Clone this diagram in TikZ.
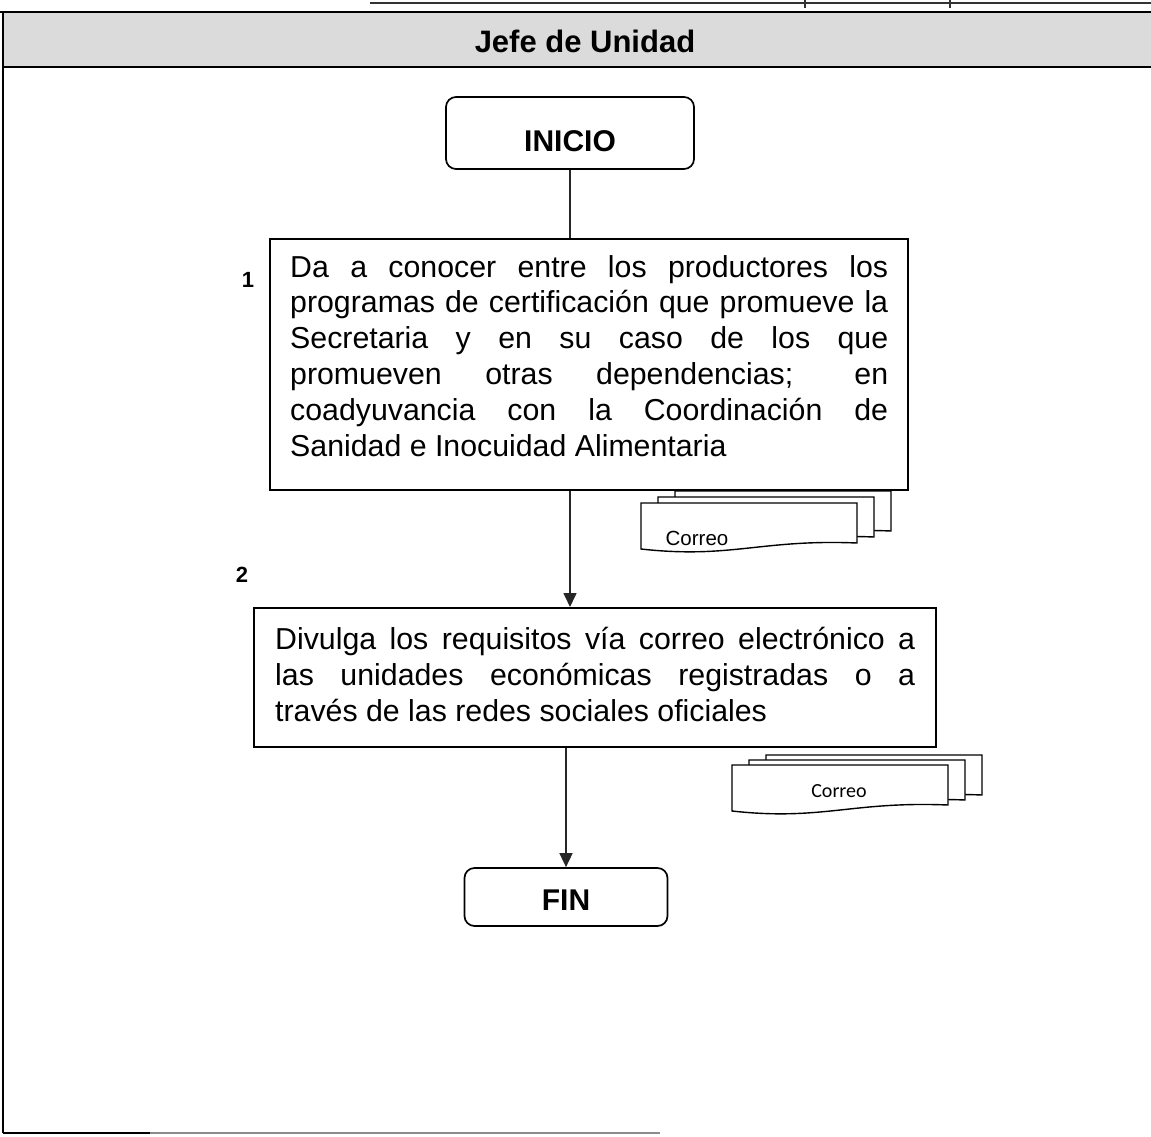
\documentclass[tikz,border=0pt]{standalone}
\usepackage{fontspec}
\setmainfont{Liberation Sans}
\newfontfamily\calibfont{Carlito}
\usetikzlibrary{arrows.meta}
\newcommand\docoutline{(0,0) -- (216,0) -- (216,40) .. controls (120,36) and (90,56) .. (0,46) -- cycle}
\newcommand\jline[2]{\makebox[#1][s]{#2}}
\newdimen\jdim
\newcommand\setjspace{\jdim=\fontdimen2\font\relax\spaceskip=\jdim plus 1fil\relax}
\begin{document}
\begin{tikzpicture}[x=1pt,y=-1pt,
  every node/.style={inner sep=0pt},
  stepbox/.style={draw=black, line width=1.7pt, fill=white, anchor=north west},
  term/.style={draw=black, line width=1.7pt, rounded corners=10pt, fill=white, font=\fontsize{30}{36}\selectfont\bfseries},
  conn/.style={line width=1.6pt, draw=black!85},
  arr/.style={conn, -{Triangle[length=14pt,width=13pt]}},
  docpage/.style={draw=black, line width=1.4pt, fill=white},
  body/.style={anchor=base west, align=left, font=\fontsize{30.3}{35.8}\selectfont},
  num/.style={anchor=base, font=\fontsize{22}{26}\selectfont\bfseries}
]
\useasboundingbox (0,0) rectangle (1151,1137);
% remnants of the table above
\draw[line width=1.2pt, black!80] (370,3) -- (1151,3);
\draw[line width=1.2pt, black!80] (805,0) -- (805,8);
\draw[line width=1.2pt, black!80] (950,0) -- (950,8);
% header band
\fill[black!14] (3,12) rectangle (1151,67);
\draw[line width=1.8pt] (0,12) -- (1151,12);
\draw[line width=1.6pt] (3,67) -- (1151,67);
\node[anchor=base, font=\fontsize{31}{36}\selectfont\bfseries] (hdr) at (585,53) {Jefe de Unidad};
% frame
\draw[line width=1.6pt] (3,12) -- (3,1133);
\draw[line width=1.6pt] (3,1133) -- (150,1133);
\draw[line width=1.2pt, black!45] (150,1133) -- (660,1133);

% terminals
\node[term, minimum width=248pt, minimum height=72pt, text height=36pt, text depth=0pt] (ini) at (570,133) {INICIO};
\node[term, minimum width=203pt, minimum height=58pt, text height=26pt, text depth=0pt] (fin) at (566,897) {FIN};

% step boxes
\node[stepbox, minimum width=638pt, minimum height=251pt] (b1) at (269,238) {};
\node[stepbox, minimum width=682pt, minimum height=139pt] (b2) at (253,607) {};

\node[body, text width=598pt] (t1) at (290,277) {\setjspace
\jline{598pt}{Da a conocer entre los productores los}\\
\jline{598pt}{programas de certificación que promueve la}\\
\jline{598pt}{Secretaria y en su caso de los que}\\
\jline{598pt}{promueven otras dependencias; en}\\
\jline{598pt}{coadyuvancia con la Coordinación de}\\
\mbox{Sanidad e Inocuidad Alimentaria}};

\node[body, text width=640pt] (t2) at (275,649.5) {\setjspace
\jline{640pt}{Divulga los requisitos vía correo electrónico a}\\
\jline{640pt}{las unidades económicas registradas o a}\\
\mbox{través de las redes sociales oficiales}};

\node[num] (n1) at (248,287) {1};
\node[num] (n2) at (242,582) {2};

% connectors
\draw[conn] (ini.south) -- (ini.south |- b1.north);
\draw[arr] (ini.south |- b1.south) -- (ini.south |- b2.north);
\draw[arr] (fin.north |- b2.south) -- (fin.north);

% document stack 1
\begin{scope}[shift={(675,491)}] \draw[docpage] \docoutline; \end{scope}
\begin{scope}[shift={(658,497)}] \draw[docpage] \docoutline; \end{scope}
\begin{scope}[shift={(641,503)}] \draw[docpage] \docoutline; \end{scope}
\node[anchor=base, font=\fontsize{20.5}{24}\selectfont] (c1) at (697,545) {Correo};

% document stack 2
\begin{scope}[shift={(766,755)}] \draw[docpage] \docoutline; \end{scope}
\begin{scope}[shift={(749,760)}] \draw[docpage] \docoutline; \end{scope}
\begin{scope}[shift={(732,765)}] \draw[docpage] \docoutline; \end{scope}
\node[anchor=base, font=\calibfont\fontsize{20}{24}\selectfont] (c2) at (839,797) {Correo};
\end{tikzpicture}
\end{document}
